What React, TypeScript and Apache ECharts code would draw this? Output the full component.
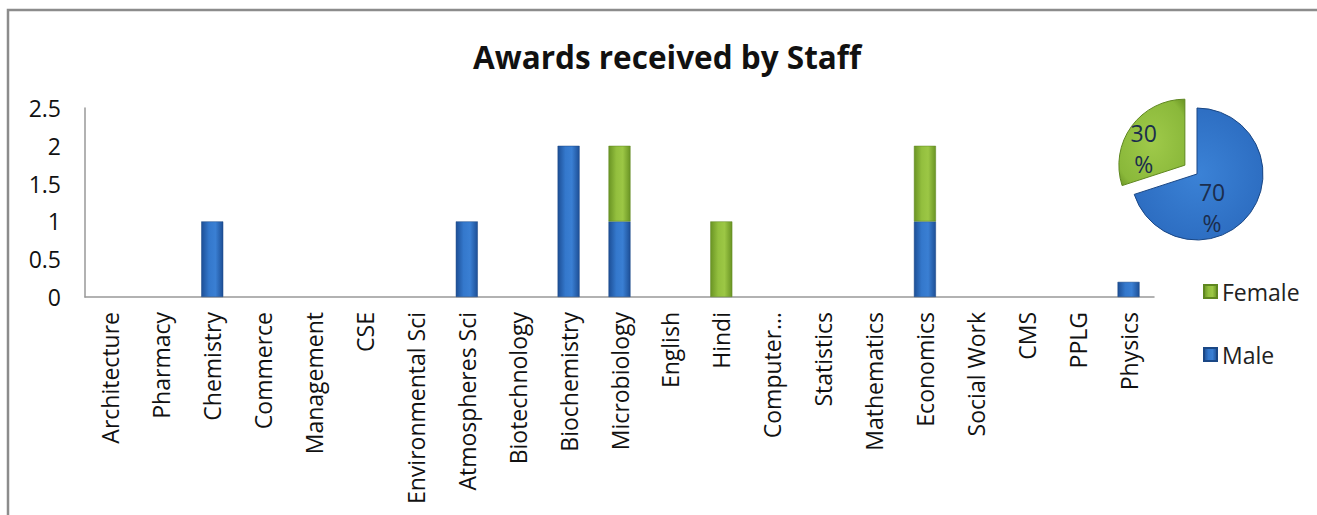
import React, { useEffect, useRef } from "react";
import * as echarts from "echarts";

const categories = [
  "Architecture", "Pharmacy", "Chemistry", "Commerce", "Management", "CSE",
  "Environmental Sci", "Atmospheres Sci", "Biotechnology", "Biochemistry",
  "Microbiology", "English", "Hindi", "Computer…", "Statistics", "Mathematics",
  "Economics", "Social Work", "CMS", "PPLG", "Physics",
];
const maleValues = [0, 0, 1, 0, 0, 0, 0, 1, 0, 2, 1, 0, 0, 0, 0, 0, 1, 0, 0, 0, 0.2];
const femaleValues = [0, 0, 0, 0, 0, 0, 0, 0, 0, 0, 1, 0, 1, 0, 0, 0, 1, 0, 0, 0, 0];
const pieNames = ["Male", "Female"];
const pieValues = [70, 30];
const yTicks = ["0", "0.5", "1", "1.5", "2", "2.5"];

const FONT = "'Open Sans', 'Noto Sans', sans-serif";

const blueGrad = new echarts.graphic.LinearGradient(0, 0, 1, 0, [
  { offset: 0, color: "#1d4f96" },
  { offset: 0.35, color: "#3478cc" },
  { offset: 0.65, color: "#3a7fd3" },
  { offset: 1, color: "#1d4f96" },
]);
const greenGrad = new echarts.graphic.LinearGradient(0, 0, 1, 0, [
  { offset: 0, color: "#6a9424" },
  { offset: 0.35, color: "#93bf3e" },
  { offset: 0.65, color: "#9cc745" },
  { offset: 1, color: "#6a9424" },
]);
const pieBlue = new echarts.graphic.RadialGradient(0.5, 0.5, 0.7, [
  { offset: 0, color: "#3b82d6" },
  { offset: 0.8, color: "#2c6cc0" },
  { offset: 1, color: "#1d4f96" },
]);
const pieGreen = new echarts.graphic.RadialGradient(0.5, 0.5, 0.7, [
  { offset: 0, color: "#9fca4a" },
  { offset: 0.8, color: "#8ab83a" },
  { offset: 1, color: "#6a9424" },
]);

const nz = (arr: number[]) => arr.map((v) => (v === 0 ? null : v));

export default function App() {
  const ref = useRef<HTMLDivElement>(null);
  useEffect(() => {
    document.body.style.margin = "0";
    const chart = echarts.init(ref.current!, null, { renderer: "svg" });
    chart.setOption({
      animation: false,
      backgroundColor: "#ffffff",
      title: {
        text: "Awards received by Staff",
        left: 468,
        top: 35,
        textStyle: { fontFamily: FONT, fontSize: 31.5, fontWeight: "bold", color: "#111" },
      },
      graphic: [
        {
          type: "rect",
          shape: { x: 8, y: 10, width: 1400, height: 600 },
          style: { fill: "none", stroke: "#8c8c8c", lineWidth: 2.5 },
          silent: true,
        },
      ],
      legend: {
        orient: "vertical",
        left: 1198,
        top: 275,
        itemWidth: 13,
        itemHeight: 13,
        itemGap: 40,
        icon: "rect",
        data: ["Female", "Male"],
        textStyle: { fontFamily: FONT, fontSize: 23, color: "#222" },
      },
      grid: { left: 85, right: 163, top: 108, bottom: 218, containLabel: false },
      xAxis: {
        type: "category",
        data: categories,
        axisTick: { show: false },
        axisLine: { lineStyle: { color: "#999", width: 1.5 } },
        axisLabel: {
          interval: 0,
          rotate: 90,
          margin: 15,
          fontFamily: FONT,
          fontSize: 23,
          color: "#111",
        },
      },
      yAxis: {
        type: "value",
        min: 0,
        max: 2.5,
        interval: 0.5,
        splitLine: { show: false },
        axisTick: { show: false },
        axisLine: { show: true, lineStyle: { color: "#999", width: 1.5 } },
        axisLabel: {
          margin: 24,
          fontFamily: FONT,
          fontSize: 23,
          color: "#111",
          formatter: (v: number) => yTicks[Math.round(v * 2)] ?? String(v),
        },
      },
      series: [
        {
          name: "Male",
          type: "bar",
          stack: "a",
          barWidth: 22,
          data: nz(maleValues),
          itemStyle: { color: blueGrad, borderColor: "#1a4785", borderWidth: 0.5 },
          color: "#2e6fc2",
        },
        {
          name: "Female",
          type: "bar",
          stack: "a",
          barWidth: 22,
          data: nz(femaleValues),
          itemStyle: { color: greenGrad, borderColor: "#5f8720", borderWidth: 0.5 },
          color: "#8ab83a",
        },
        {
          name: "Share",
          type: "pie",
          center: [1197, 174],
          radius: 66,
          startAngle: 90,
          clockwise: true,
          selectedMode: "single",
          selectedOffset: 15,
          label: {
            show: true,
            position: "inside",
            formatter: "{c}\n%",
            fontFamily: FONT,
            fontSize: 23,
            lineHeight: 31,
            color: "#1b2d4d",
          },
          labelLine: { show: false },
          data: [
            {
              name: pieNames[0],
              value: pieValues[0],
              label: { offset: [-14, 12] },
              itemStyle: { color: pieBlue, borderColor: "#1a4785", borderWidth: 1 },
            },
            {
              name: pieNames[1],
              value: pieValues[1],
              selected: true,
              label: { offset: [-12, 4] },
              select: { label: { offset: [-12, 4] } },
              itemStyle: { color: pieGreen, borderColor: "#5f8720", borderWidth: 1 },
            },
          ],
        },
      ],
    });
    return () => chart.dispose();
  }, []);
  return <div ref={ref} style={{ width: 1317, height: 515 }} />;
}
